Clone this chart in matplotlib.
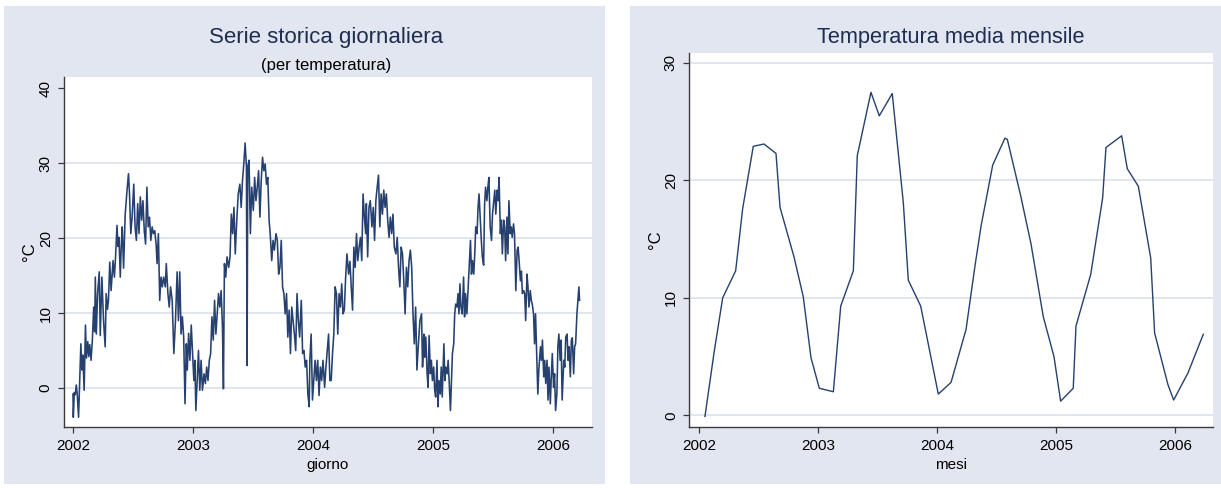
import matplotlib
matplotlib.use("Agg")
import matplotlib.pyplot as plt
from matplotlib.patches import Rectangle

plt.rcParams['font.family'] = ['Liberation Sans', 'DejaVu Sans']

NAVY = '#26406f'
SFONDO = '#e2e6f0'
GRIGLIA = '#dde3ee'
ASSE = '#3a3a3a'

anni = [2002, 2003, 2004, 2005, 2006]
yticks_giorn = [0, 10, 20, 30, 40]
yticks_mens = [0, 10, 20, 30]
griglia_y = [0, 10, 20, 30]

# giorni trascorsi dal 1/1/2002 e temperatura giornaliera (gradi C)
giorni = [
    0, 1, 4, 7, 10, 13, 17, 20, 24, 27,
    30, 34, 38, 41, 45, 48, 51, 55, 59, 63,
    66, 68, 71, 75, 80, 83, 88, 93, 98, 101,
    105, 108, 112, 116, 119, 122, 126, 129, 134, 137,
    140, 144, 147, 150, 154, 159, 164, 169, 172, 176,
    180, 185, 189, 193, 197, 201, 205, 209, 213, 217,
    221, 225, 229, 233, 237, 241, 245, 249, 253, 256,
    260, 264, 268, 272, 276, 281, 284, 289, 293, 297,
    302, 307, 312, 317, 321, 325, 329, 333, 337, 341,
    345,
    348, 352, 356, 360, 364, 368, 371, 374, 378, 382,
    386, 390, 394, 399, 403, 407, 411, 415, 419, 423,
    427, 431, 435, 439, 443, 447, 451, 455, 458, 461,
    465, 469, 474, 478, 482, 486, 490, 494, 498, 503,
    508, 512, 516, 520, 524, 528, 530, 532, 536, 540,
    544, 549, 553, 557, 561, 565, 569, 573, 577, 581,
    585, 589, 593, 597, 601, 605, 609, 613, 618, 622,
    626, 630, 634, 638, 642, 646, 650, 654, 658, 662,
    666, 670, 674, 678, 682, 686, 690, 695, 699, 703,
    707, 711, 715, 719,
    721, 725, 729, 733, 737, 741, 745, 749, 753, 757,
    761, 766, 770, 774, 778, 782, 786, 790, 794, 798,
    802, 806, 810, 814, 818, 822, 826, 830, 834, 839,
    843, 847, 851, 855, 859, 863, 867, 871, 875, 879,
    883, 887, 891, 893, 897, 901, 905, 910, 914, 918,
    922, 926, 930, 934, 938, 942, 946, 950, 954, 958,
    962, 966, 970, 974, 978, 983, 987, 991, 995, 999,
    1003, 1007, 1011, 1015, 1019, 1023, 1027, 1031, 1035, 1039,
    1043, 1047, 1051, 1056,
    1061, 1064, 1066, 1068, 1071, 1074, 1078, 1081, 1084, 1088,
    1091, 1094, 1098, 1101, 1104, 1108, 1111, 1114, 1118, 1121,
    1124, 1129, 1132, 1135, 1139, 1142, 1145, 1149, 1152, 1155,
    1159, 1162, 1165, 1169, 1172, 1175, 1178, 1181, 1185, 1189,
    1192, 1195, 1199, 1202, 1206, 1210, 1213, 1216, 1220, 1223,
    1226, 1230, 1233, 1236, 1240, 1243, 1246, 1250, 1253, 1256,
    1260, 1263, 1266, 1270, 1274, 1277, 1281, 1284, 1287, 1291,
    1294, 1297, 1301, 1304, 1307, 1311, 1314, 1317, 1321, 1324,
    1327, 1331, 1334, 1337, 1341, 1344, 1348, 1352, 1355, 1358,
    1362, 1365, 1368, 1372, 1375, 1378, 1382, 1385, 1388, 1392,
    1395, 1398, 1402, 1405, 1408, 1412, 1415, 1418, 1423, 1426,
    1429, 1433, 1436, 1439, 1443, 1446, 1449, 1453, 1456, 1459,
    1463, 1466, 1469, 1473, 1476, 1479, 1483, 1486, 1489, 1494,
    1497, 1500, 1504, 1507, 1510, 1514, 1517, 1520, 1524, 1527,
    1530, 1534, 1537, 1540, 1542,
]
temp_giorn = [
    -0.8, -3.9, -0.6, -0.9, 0.4, -0.8, -3.9, 0.2, 5.9, 2.4,
    4.4, -0.3, 8.4, 4.0, 6.2, 4.2, 5.8, 3.7, 6.4, 10.8,
    7.5, 14.8, 7.2, 12.6, 15.5, 7.0, 14.8, 9.0, 5.5, 12.6,
    10.5, 11.7, 16.8, 13.0, 15.0, 17.0, 14.8, 17.0, 21.7, 18.9,
    20.1, 14.8, 19.0, 21.5, 16.0, 23.2, 26.1, 28.6, 26.0, 20.6,
    22.8, 27.2, 21.5, 19.7, 24.6, 20.6, 25.5, 22.4, 25.0, 21.0,
    19.2, 26.8, 21.5, 22.8, 19.7, 21.5, 20.6, 21.0, 19.2, 16.6,
    20.6, 11.7, 14.8, 13.5, 14.8, 13.5, 16.6, 12.6, 10.8, 13.5,
    11.7, 4.6, 9.0, 15.5, 9.0, 15.5, 7.2, 9.5, 6.8, -2.1,
    5.9,
    2.4, 7.3, 3.7, 8.4, 4.6, 1.0, 3.7, -3.0, 1.0, 5.0,
    -0.3, 3.7, -0.3, 1.9, 0.6, 2.8, 1.0, 3.7, 4.6, 9.5,
    6.4, 11.7, 7.2, 9.9, 12.6, 10.8, 13.0, 8.2, -0.1, 16.6,
    14.8, 17.5, 16.1, 17.5, 23.2, 20.6, 24.1, 17.9, 21.9, 25.9,
    27.2, 24.1, 27.7, 29.9, 32.7, 29.5, 3.0, 29.5, 30.4, 20.6,
    26.8, 23.7, 28.1, 25.0, 26.8, 29.0, 22.8, 27.7, 30.8, 29.0,
    29.9, 27.2, 28.1, 22.4, 20.1, 17.0, 19.7, 18.4, 20.6, 19.7,
    15.2, 16.1, 19.7, 13.5, 12.6, 9.9, 12.6, 6.8, 10.4, 4.6,
    10.8, 9.0, 7.2, 5.0, 12.6, 9.0, 6.8, 11.7, 4.6, 5.0,
    2.8, 3.7, -0.8, -2.5,
    3.7, 7.2, -1.6, 1.0, 3.7, 1.0, 3.7, -1.0, 2.8, 1.0,
    3.7, 0.1, 2.8, 5.0, 7.2, 1.0, 1.0, 4.6, 7.2, 13.5,
    12.6, 7.2, 12.6, 10.8, 13.9, 9.9, 10.4, 14.8, 17.9, 15.2,
    16.9, 13.5, 10.4, 18.8, 16.1, 20.6, 17.0, 18.8, 20.1, 17.0,
    25.9, 22.8, 20.6, 24.6, 17.5, 24.1, 25.0, 21.5, 24.1, 19.7,
    25.0, 26.8, 28.4, 21.5, 25.9, 23.2, 26.4, 24.1, 25.9, 22.4,
    20.1, 22.8, 20.6, 23.2, 18.8, 17.9, 20.1, 16.1, 13.5, 18.8,
    17.9, 14.3, 9.9, 16.1, 13.5, 17.0, 18.4, 16.1, 9.9, 5.9,
    10.8, 2.4, 5.5, 9.0,
    9.9, 2.8, 4.6, 7.2, 4.1, 6.8, 1.9, 0.1, 7.0, 1.9,
    3.7, 1.0, 2.8, -0.3, -1.2, 3.7, -2.5, 1.0, -0.8, 2.8,
    -1.2, 5.9, 1.0, 2.8, 1.9, 3.7, 1.0, -3.0, 1.0, 4.6,
    5.9, 9.9, 11.2, 10.8, 12.6, 9.9, 13.9, 10.8, 9.9, 14.8,
    9.5, 12.6, 9.9, 12.6, 16.1, 19.7, 15.2, 17.0, 15.2, 17.9,
    21.5, 20.6, 24.1, 25.9, 22.4, 19.7, 17.5, 16.4, 24.6, 26.8,
    25.0, 26.8, 28.1, 21.5, 19.7, 23.2, 25.0, 26.4, 23.2, 26.4,
    25.0, 28.1, 20.6, 22.4, 17.9, 22.4, 21.5, 17.0, 22.8, 17.9,
    25.0, 20.6, 21.5, 20.1, 21.9, 20.6, 13.0, 18.4, 18.8, 17.0,
    14.3, 15.6, 12.6, 13.0, 12.6, 9.0, 15.2, 13.5, 10.8, 13.0,
    11.7, 11.2, 9.9, 5.9, 9.9, 3.7, -0.8, 2.4, 5.5, 3.7,
    6.4, 1.5, 3.7, 0.6, 3.7, -1.6, 2.8, -2.1, 1.5, 4.6,
    0.1, 1.9, -3.0, -0.8, 5.5, 7.2, 3.7, 6.4, -1.6, 3.7,
    2.8, 6.8, 7.2, 3.7, 5.5, 1.5, 6.4, 6.7, 1.9, 5.5,
    5.9, 9.9, 11.7, 13.5, 11.7,
]

# media mensile: posizione del mese (anno decimale) e temperatura
mesi = [
    2002.050, 2002.126, 2002.199, 2002.308, 2002.367, 2002.456,
    2002.546, 2002.647, 2002.681, 2002.798, 2002.876, 2002.941,
    2003.011, 2003.129, 2003.191, 2003.297, 2003.330, 2003.445,
    2003.515, 2003.624, 2003.717, 2003.759, 2003.863,
    2004.011, 2004.118, 2004.244, 2004.319, 2004.370, 2004.468,
    2004.571, 2004.591, 2004.703, 2004.790, 2004.893, 2004.983,
    2005.039, 2005.145, 2005.168, 2005.292, 2005.392, 2005.420,
    2005.552, 2005.599, 2005.692, 2005.796, 2005.829, 2005.941,
    2005.989, 2006.109, 2006.238,
]
temp_mens = [
    -0.1, 5.3, 10.0, 12.3, 17.6, 22.9,
    23.1, 22.3, 17.7, 13.5, 10.1, 4.9,
    2.3, 2.0, 9.3, 12.3, 22.1, 27.5,
    25.5, 27.4, 18.1, 11.5, 9.3,
    1.8, 2.8, 7.3, 12.7, 16.1, 21.3,
    23.6, 23.5, 18.7, 14.6, 8.4, 5.0,
    1.2, 2.3, 7.6, 12.0, 18.5, 22.8,
    23.8, 21.0, 19.5, 13.4, 7.0, 2.6,
    1.3, 3.6, 6.9,
]


# stile "stata": sfondo azzurrino, griglia orizzontale, assi solo a sx e in basso
def styleAxes(ax, yticks, ylim, xlim):
    ax.set_xlim(xlim)
    ax.set_ylim(ylim)
    ax.set_xticks(anni)
    ax.set_yticks(yticks)
    ax.set_facecolor('white')
    for v in griglia_y:
        ax.axhline(v, color=GRIGLIA, lw=1.3, zorder=0)
    for side in ['top', 'right']:
        ax.spines[side].set_visible(False)
    for side in ['left', 'bottom']:
        ax.spines[side].set_color(ASSE)
        ax.spines[side].set_linewidth(1.0)
    ax.tick_params(direction='out', length=4, width=0.9, color=ASSE,
                   labelsize=11, labelcolor='black')
    ax.tick_params(axis='x', pad=5)
    ax.tick_params(axis='y', pad=4)
    for lab in ax.get_yticklabels():
        lab.set_rotation(90)
        lab.set_va('center')


fig = plt.figure(figsize=(12.21, 4.88), dpi=100)
fig.patch.set_facecolor('white')

# pannelli di sfondo
fig.add_artist(Rectangle((0.0033, 0.008), 0.4922, 0.9795, transform=fig.transFigure,
                         facecolor=SFONDO, edgecolor='none', zorder=-10))
fig.add_artist(Rectangle((0.516, 0.008), 0.484, 0.9795, transform=fig.transFigure,
                         facecolor=SFONDO, edgecolor='none', zorder=-10))

# serie giornaliera
ax1 = fig.add_axes([0.0524, 0.125, 0.4324, 0.7172])
x_giorn = [2002 + g / 365.25 for g in giorni]
ax1.plot(x_giorn, temp_giorn, color=NAVY, lw=1.15)
styleAxes(ax1, yticks_giorn, (-5.2, 41.5), (2001.925, 2006.325))
ax1.set_xlabel('giorno', fontsize=11, labelpad=3)
ax1.set_ylabel('°C', fontsize=12, labelpad=1)
fig.text(0.267, 0.924, 'Serie storica giornaliera', ha='center', va='center',
         fontsize=16, color='#1e2d50')
fig.text(0.267, 0.865, '(per temperatura)', ha='center', va='center',
         fontsize=12, color='black')

# media mensile
ax2 = fig.add_axes([0.5643, 0.125, 0.4292, 0.7664])
ax2.plot(mesi, temp_mens, color=NAVY, lw=1.0)
styleAxes(ax2, yticks_mens, (-1.0, 30.85), (2001.916, 2006.32))
ax2.set_xlabel('mesi', fontsize=11, labelpad=3)
ax2.set_ylabel('°C', fontsize=12, labelpad=1)
fig.text(0.779, 0.924, 'Temperatura media mensile', ha='center', va='center',
         fontsize=15.7, color='#1e2d50')

fig.savefig('out.png', dpi=100, facecolor=fig.get_facecolor())
